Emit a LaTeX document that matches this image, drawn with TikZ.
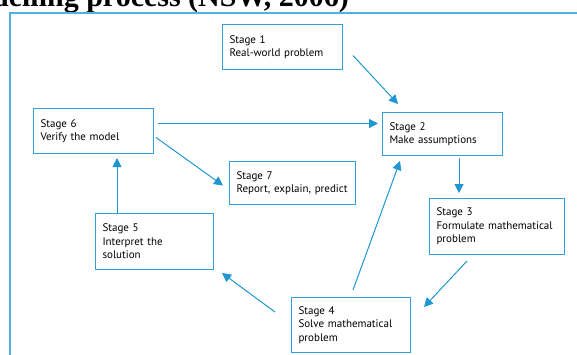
\documentclass[tikz,border=0pt]{standalone}
\usepackage{fontspec}
\setmainfont{PT Sans}
\newfontfamily\headfont{Liberation Serif}
\usetikzlibrary{arrows.meta,calc}
\definecolor{framecol}{RGB}{80,178,225}
\definecolor{boxcol}{RGB}{50,160,215}
\definecolor{arrowcol}{RGB}{30,150,210}
\tikzset{
    stagebox/.style={draw=boxcol,line width=1pt,anchor=north west,align=left,
        inner xsep=7pt,inner ysep=5pt,font=\fontsize{11}{13.5}\selectfont},
    flow/.style={draw=arrowcol,line width=1pt,-{Triangle[length=9pt,width=9pt]}}
}
\begin{document}
\begin{tikzpicture}[x=1pt,y=-1pt]
        \clip (0,0) rectangle (577,354);
        % heading, cut off at the top
        \node[anchor=base east,inner sep=0pt,font=\headfont\bfseries\fontsize{30}{30}\selectfont] (head) at (349,6) {Modelling process (NSW, 2006)};
        \draw[framecol,line width=1.2pt] (10,13) rectangle (600,400);

        \node[stagebox,text width=106pt,minimum height=45pt] (s1) at (222,24) {Stage 1\\Real-world problem};
        \node[stagebox,text width=106pt,minimum height=43pt] (s2) at (382,112) {Stage 2\\Make assumptions};
        \node[stagebox,text width=121pt,minimum height=56pt] (s3) at (429,198) {Stage 3\\Formulate mathematical\\problem};
        \node[stagebox,text width=105pt,minimum height=55pt] (s4) at (291,297) {Stage 4\\Solve mathematical\\problem};
        \node[stagebox,text width=104pt,minimum height=56pt] (s5) at (95,213) {Stage 5\\Interpret the\\solution};
        \node[stagebox,text width=106pt,minimum height=45pt] (s6) at (33,108) {Stage 6\\Verify the model};
        \node[stagebox,text width=112pt,minimum height=43pt] (s7) at (229,161) {Stage 7\\Report, explain, predict};

        \draw[flow] ($(s1.east)+(10,8.5)$) -- ($(s2.north west)+(16,-8)$);
        \draw[flow] ($(s2.south west)+(77,2)$) -- ($(s3.north west)+(30,-5)$);
        \draw[flow] ($(s3.south west)+(38,6)$) -- ($(s4.north east)+(13,10)$);
        \draw[flow] ($(s4.north west)+(62,-7)$) -- ($(s2.south west)+(18,5)$);
        \draw[flow] ($(s4.north west)+(-16,15)$) -- ($(s5.south east)+(8,3)$);
        \draw[flow] ($(s5.north west)+(22,0)$) -- ($(s6.south west)+(84,4)$);
        \draw[flow] ($(s6.east)+(4,-7.5)$) -- ($(s2.west)+(-4,-10.5)$);
        \draw[flow] ($(s6.east)+(2,6.5)$) -- ($(s7.west)+(-6,2.5)$);
    \end{tikzpicture}
\end{document}
